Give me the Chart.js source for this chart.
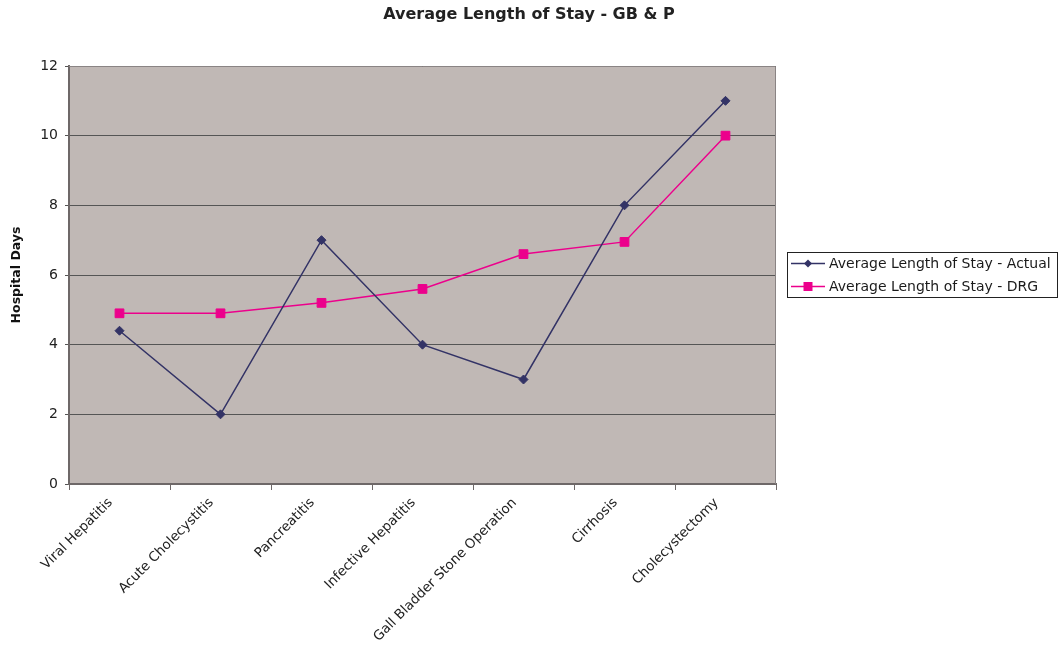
<!DOCTYPE html>
<html>
<head>
<meta charset="utf-8">
<title>Average Length of Stay - GB &amp; P</title>
<script src="https://cdn.jsdelivr.net/npm/chart.js@4/dist/chart.umd.min.js"></script>
<style>
  html, body { margin: 0; padding: 0; background: #ffffff; }
  #wrap { width: 1062px; height: 645px; position: relative; }
</style>
</head>
<body>
<div id="wrap"><canvas id="chart" width="1062" height="645"></canvas></div>
<script>
// Diagnosis groups along the x axis
const categories = [
  'Viral Hepatitis',
  'Acute Cholecystitis',
  'Pancreatitis',
  'Infective Hepatitis',
  'Gall Bladder Stone Operation',
  'Cirrhosis',
  'Cholecystectomy'
];

// Average hospital days per group
const actualDays = [4.4, 2, 7, 4, 3, 8, 11];
const drgDays = [4.9, 4.9, 5.2, 5.6, 6.6, 6.95, 10];

// Y axis range and tick step (hospital days)
const yMin = 0;
const yMax = 12;
const yStep = 2;

const chartTitle = 'Average Length of Stay - GB & P';

const FONT = "'DejaVu Sans', 'Liberation Sans', Arial, sans-serif";
const PLOT_BG = '#c0b8b5';

// Fills the plot area, outlines it and writes the title centred on the canvas
const plotFrame = {
  id: 'plotFrame',
  beforeDraw(chart) {
    const { ctx, chartArea: a } = chart;
    ctx.save();
    ctx.fillStyle = PLOT_BG;
    ctx.fillRect(a.left, a.top, a.right - a.left, a.bottom - a.top);
    ctx.fillStyle = '#222222';
    ctx.font = 'bold 16px ' + FONT;
    ctx.textAlign = 'center';
    ctx.textBaseline = 'middle';
    ctx.fillText(chartTitle, chart.width / 2 - 2, 15);
    ctx.restore();
  },
  afterDatasetsDraw(chart) {
    const { ctx, chartArea: a } = chart;
    ctx.save();
    ctx.strokeStyle = '#8a8484';
    ctx.lineWidth = 1;
    ctx.beginPath();
    ctx.moveTo(a.left, a.top + 0.5);
    ctx.lineTo(a.right - 0.5, a.top + 0.5);
    ctx.lineTo(a.right - 0.5, a.bottom);
    ctx.stroke();
    ctx.restore();
  }
};

// Boxed legend on the right: a line sample with its marker, then the series name
const boxedLegend = {
  id: 'boxedLegend',
  afterDraw(chart) {
    const { ctx } = chart;
    const box = { x: 787.5, y: 252.5, w: 270, h: 45 };
    ctx.save();
    ctx.strokeStyle = '#222222';
    ctx.lineWidth = 1;
    ctx.strokeRect(box.x, box.y, box.w, box.h);
    ctx.font = '14px ' + FONT;
    ctx.textBaseline = 'middle';
    ctx.textAlign = 'left';
    chart.data.datasets.forEach((ds, i) => {
      const cy = 263.5 + i * 23;
      ctx.strokeStyle = ds.borderColor;
      ctx.lineWidth = 1.5;
      ctx.beginPath();
      ctx.moveTo(791, cy);
      ctx.lineTo(825, cy);
      ctx.stroke();
      ctx.fillStyle = ds.borderColor;
      const mx = 808;
      ctx.beginPath();
      if (ds.pointStyle === 'rectRot') {
        ctx.moveTo(mx - 4, cy);
        ctx.lineTo(mx, cy - 4);
        ctx.lineTo(mx + 4, cy);
        ctx.lineTo(mx, cy + 4);
        ctx.closePath();
      } else {
        ctx.rect(mx - 4.5, cy - 4.5, 9, 9);
      }
      ctx.fill();
      ctx.fillStyle = '#1a1a1a';
      ctx.fillText(ds.label, 829, cy + 0.5);
    });
    ctx.restore();
  }
};

new Chart(document.getElementById('chart'), {
  type: 'line',
  data: {
    labels: categories,
    datasets: [
      {
        label: 'Average Length of Stay - Actual',
        data: actualDays,
        borderColor: '#333366',
        backgroundColor: '#333366',
        borderWidth: 1.5,
        pointStyle: 'rectRot',
        pointRadius: 4.5,
        pointBorderWidth: 1,
        pointBackgroundColor: '#333366',
        pointBorderColor: '#333366',
        tension: 0,
        fill: false
      },
      {
        label: 'Average Length of Stay - DRG',
        data: drgDays,
        borderColor: '#ec008c',
        backgroundColor: '#ec008c',
        borderWidth: 1.5,
        pointStyle: 'rect',
        pointRadius: 6.2,
        pointBorderWidth: 1,
        pointBackgroundColor: '#ec008c',
        pointBorderColor: '#ec008c',
        tension: 0,
        fill: false
      }
    ]
  },
  options: {
    responsive: false,
    animation: false,
    devicePixelRatio: 1,
    layout: { padding: { left: 0, right: 286, top: 66, bottom: 0 } },
    plugins: {
      legend: { display: false },
      tooltip: { enabled: false },
      title: { display: false }
    },
    scales: {
      x: {
        offset: true,
        afterFit(scale) { scale.height = 161; },
        grid: {
          offset: true,
          drawOnChartArea: false,
          drawTicks: true,
          tickLength: 6,
          color: '#6e6868',
          lineWidth: 1
        },
        border: { color: '#6e6868', width: 2 },
        ticks: {
          autoSkip: false,
          minRotation: 45,
          maxRotation: 45,
          padding: 5,
          labelOffset: -9,
          color: '#222222',
          font: { family: FONT, size: 13.4 }
        }
      },
      y: {
        min: yMin,
        max: yMax,
        afterFit(scale) { scale.width = 69; },
        grid: {
          color: '#555555',
          lineWidth: 1,
          tickLength: 4,
          drawTicks: true
        },
        border: { color: '#6e6868', width: 2 },
        ticks: {
          stepSize: yStep,
          padding: 7,
          color: '#222222',
          font: { family: FONT, size: 14 }
        },
        title: {
          display: true,
          text: 'Hospital Days',
          color: '#111111',
          font: { family: FONT, size: 12.5, weight: 'bold' },
          padding: { top: 9.5, bottom: 0 }
        }
      }
    }
  },
  plugins: [plotFrame, boxedLegend]
});
</script>
</body>
</html>
